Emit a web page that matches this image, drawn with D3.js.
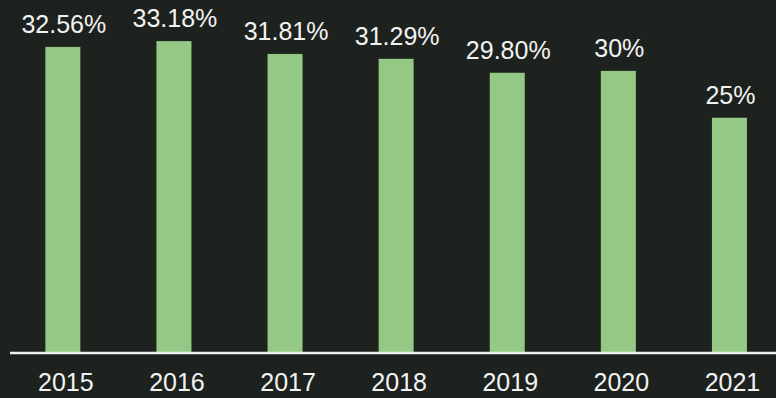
<!DOCTYPE html>
<html>
<head>
<meta charset="utf-8">
<script src="https://cdn.jsdelivr.net/npm/d3@7"></script>
<style>
  html, body { margin: 0; padding: 0; background: #1e221e; }
  svg { display: block; }
</style>
</head>
<body>
<script>
// Yearly rates
const years = ["2015", "2016", "2017", "2018", "2019", "2020", "2021"];
const values = [32.56, 33.18, 31.81, 31.29, 29.80, 30, 25];
const valueLabels = ["32.56%", "33.18%", "31.81%", "31.29%", "29.80%", "30%", "25%"];

const W = 776, H = 398;
const baseY = 352;

const svg = d3.select("body").append("svg")
  .attr("width", W).attr("height", H);

svg.append("rect").attr("width", W).attr("height", H).attr("fill", "#1e221e");

const x = d3.scaleBand()
  .domain(years)
  .range([7.3, 785])
  .paddingInner(0.685)
  .paddingOuter(0.3425);

const y = d3.scaleLinear()
  .domain([0, 35])
  .range([baseY, baseY - 35 * 9.37]);

// Bars
svg.selectAll("rect.bar")
  .data(values)
  .join("rect")
  .attr("class", "bar")
  .attr("x", (d, i) => x(years[i]))
  .attr("y", d => y(d))
  .attr("width", x.bandwidth())
  .attr("height", d => y(0) - y(d))
  .attr("fill", "#93c885");

// Value labels above bars
svg.selectAll("text.val")
  .data(values)
  .join("text")
  .attr("class", "val")
  .attr("x", (d, i) => x(years[i]) + x.bandwidth() / 2 + 1)
  .attr("y", d => y(d) - 14)
  .attr("text-anchor", "middle")
  .attr("font-family", "'Liberation Sans', Arial, sans-serif")
  .attr("font-size", 25)
  .attr("fill", "#f2f2f2")
  .text((d, i) => valueLabels[i]);

// Category axis
const axis = svg.append("g")
  .attr("transform", `translate(0,${baseY + 1})`)
  .call(d3.axisBottom(x).tickSize(0).tickPadding(20));
axis.select(".domain")
  .attr("d", `M10,0H${W}`)
  .attr("stroke", "#f2f2f2")
  .attr("stroke-width", 2.5);
axis.selectAll("text")
  .attr("font-family", "'Liberation Sans', Arial, sans-serif")
  .attr("font-size", 25)
  .attr("fill", "#f2f2f2")
  .attr("dx", 3);
</script>
</body>
</html>
